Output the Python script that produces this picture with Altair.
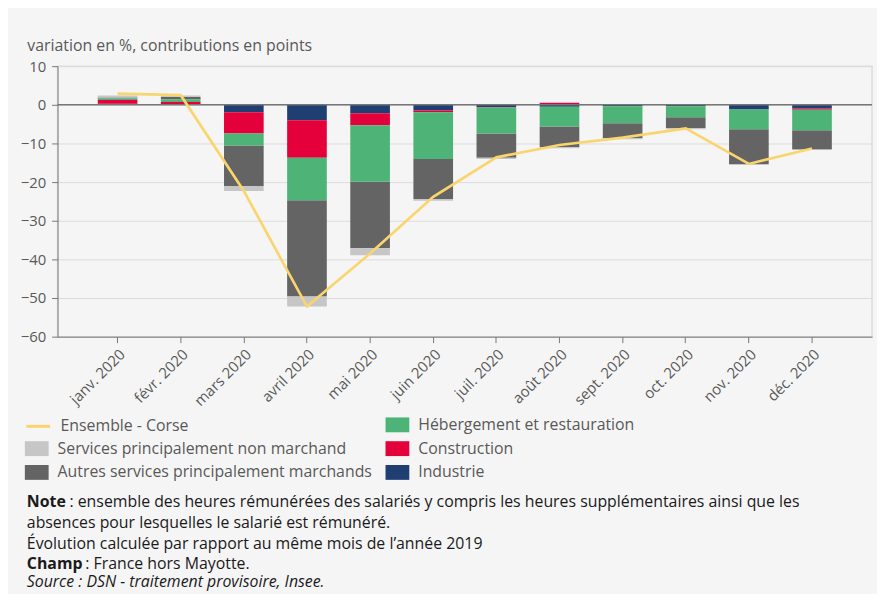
import altair as alt
import pandas as pd

# ---------------- data ----------------
months = ["janv. 2020", "févr. 2020", "mars 2020", "avril 2020", "mai 2020", "juin 2020",
          "juil. 2020", "août 2020", "sept. 2020", "oct. 2020", "nov. 2020", "déc. 2020"]

ensemble = [2.9, 2.5, -22.3, -52.2, -38.5, -23.8, -13.6, -10.4, -8.5, -6.1, -15.3, -11.3]

industrie = [0.25, 0.05, -1.9, -4.0, -2.2, -1.45, -0.6, -0.5, -0.4, -0.35, -1.2, -0.95]
construction = [1.0, 0.7, -5.5, -9.7, -3.1, -0.5, -0.1, 0.5, 0.0, 0.0, 0.0, -0.35]
hebergement = [0.4, 0.6, -3.1, -11.0, -14.6, -12.1, -6.7, -5.1, -4.4, -2.9, -5.1, -5.3]
autres_marchands = [0.25, 0.7, -10.5, -24.9, -17.2, -10.3, -6.3, -5.4, -3.85, -2.8, -9.0, -4.95]
non_marchand = [0.5, 0.35, -1.3, -2.6, -1.8, -0.5, -0.3, -0.25, -0.25, -0.25, -0.25, -0.1]

series_names = ["Industrie", "Construction", "Hébergement et restauration",
                "Autres services principalement marchands",
                "Services principalement non marchand"]
series_colors = ["#1f3f72", "#e4003a", "#4db377", "#646464", "#c6c6c6"]
line_name = "Ensemble - Corse"
line_color = "#fad56d"

y_title = "variation en %, contributions en points"
y_ticks = [-60, -50, -40, -30, -20, -10, 0, 10]

note_lines = [
    ("Note", "bold", "normal", 27, 510),
    (": ensemble des heures rémunérées des salariés y compris les heures supplémentaires ainsi que les",
     "normal", "normal", 70, 510),
    ("absences pour lesquelles le salarié est rémunéré.", "normal", "normal", 27, 531),
    ("Évolution calculée par rapport au même mois de l’année 2019", "normal", "normal", 27, 552),
    ("Champ", "bold", "normal", 27, 572),
    (": France hors Mayotte.", "normal", "normal", 86, 572),
    ("Source : DSN - traitement provisoire, Insee.", "normal", "italic", 27, 591),
]

# ---------------- tables ----------------
series_values = [industrie, construction, hebergement, autres_marchands, non_marchand]
rows = []
for k, (name, vals) in enumerate(zip(series_names, series_values)):
    for m, v in zip(months, vals):
        rows.append({"mois": m, "serie": name, "valeur": v, "ordre": k})
bars_df = pd.DataFrame(rows)
line_df = pd.DataFrame({"mois": months, "valeur": ensemble, "serie": [line_name] * len(months)})

color_of = dict(zip(series_names, series_colors))

PLOT_X, PLOT_Y = 58, 65  # page position of plot area (for annotation placement)

FONT = "Open Sans"
x_enc = alt.X("mois:N", sort=months,
              scale=alt.Scale(paddingInner=0.372, paddingOuter=0.637),
              axis=alt.Axis(title=None, labelAngle=-45, labelFontSize=15, labelPadding=4,
                            tickSize=6, domainColor="#777777", tickColor="#777777",
                            labelColor="#595959", grid=False))
y_scale = alt.Scale(domain=[-60, 10], nice=False, zero=False)
y_axis = alt.Axis(title=y_title, values=y_ticks, titleAngle=0, titleAlign="left",
                  titleBaseline="alphabetic", titleX=27 - PLOT_X, titleY=49 - PLOT_Y,
                  titleFontSize=16, titleFontWeight="normal", titleColor="#595959",
                  labelFontSize=15, labelColor="#595959", labelPadding=6, tickSize=6,
                  domainColor="#777777", tickColor="#777777", gridColor="#dcdcdc")

rect_path = "M-1,-0.625H1V0.625H-1Z"

base = alt.Chart(bars_df).transform_stack(
    stack="valeur", groupby=["mois"], as_=["y0", "y1"],
    sort=[alt.SortField("ordre", order="ascending")], offset="zero")

grp_a = ["Services principalement non marchand", "Autres services principalement marchands"]
grp_b = ["Hébergement et restauration", "Construction", "Industrie"]

legend_common = dict(title=None, orient="none", labelFontSize=16, labelColor="#595959",
                     labelFont=FONT, labelOffset=9, rowPadding=4, labelLimit=400)

bars_a = base.transform_filter(alt.FieldOneOfPredicate(field="serie", oneOf=grp_a)).mark_bar().encode(
    x=x_enc,
    y=alt.Y("y0:Q", scale=y_scale, axis=y_axis, title=y_title),
    y2="y1:Q",
    color=alt.Color("serie:N",
                    scale=alt.Scale(domain=grp_a, range=[color_of[s] for s in grp_a]),
                    legend=alt.Legend(legendX=25 - PLOT_X, legendY=439 - PLOT_Y,
                                      symbolType=rect_path, symbolSize=576,
                                      symbolStrokeWidth=0, symbolOpacity=1, **legend_common)),
)

bars_b = base.transform_filter(alt.FieldOneOfPredicate(field="serie", oneOf=grp_b)).mark_bar().encode(
    x=x_enc,
    y=alt.Y("y0:Q", scale=y_scale, axis=y_axis, title=y_title),
    y2="y1:Q",
    fill=alt.Fill("serie:N",
                  scale=alt.Scale(domain=grp_b, range=[color_of[s] for s in grp_b]),
                  legend=alt.Legend(legendX=389 - PLOT_X, legendY=415 - PLOT_Y,
                                    symbolType=rect_path, symbolSize=576,
                                    symbolStrokeWidth=0, symbolOpacity=1, **legend_common)),
)

zero_rule = alt.Chart(pd.DataFrame({"z": [0]})).mark_rule(color="#777777", strokeWidth=1.5).encode(
    y=alt.Y("z:Q", scale=y_scale, axis=y_axis, title=y_title))

line = alt.Chart(line_df).mark_line(strokeWidth=2.7).encode(
    x=x_enc,
    y=alt.Y("valeur:Q", scale=y_scale, axis=y_axis, title=y_title),
    stroke=alt.Stroke("serie:N",
                      scale=alt.Scale(domain=[line_name], range=[line_color]),
                      legend=alt.Legend(legendX=25 - PLOT_X, legendY=415 - PLOT_Y,
                                        symbolType="stroke", symbolSize=576,
                                        symbolStrokeWidth=3, **legend_common)),
)

texts = []
for txt, weight, style, px, py in note_lines:
    texts.append(
        alt.Chart(pd.DataFrame({"t": [txt]})).mark_text(
            align="left", baseline="alphabetic", fontSize=16, font=FONT,
            fontWeight=weight, fontStyle=style, color="#1a1a1a"
        ).encode(text="t:N", x=alt.value(px - PLOT_X), y=alt.value(py - PLOT_Y))
    )

chart = alt.layer(bars_a, bars_b, zero_rule, line, *texts).resolve_scale(
    color="independent", fill="independent", stroke="independent"
).properties(
    width=822, height=273,
    autosize=alt.AutoSizeParams(type="none"),
    padding={"left": 50, "top": 56, "right": 5, "bottom": 257},
    background="#f5f5f5",
).configure(font=FONT).configure_view(
    stroke="#dddddd", strokeWidth=1.5
)

chart.save("out.html", embed_options={"renderer": "svg", "actions": False})
